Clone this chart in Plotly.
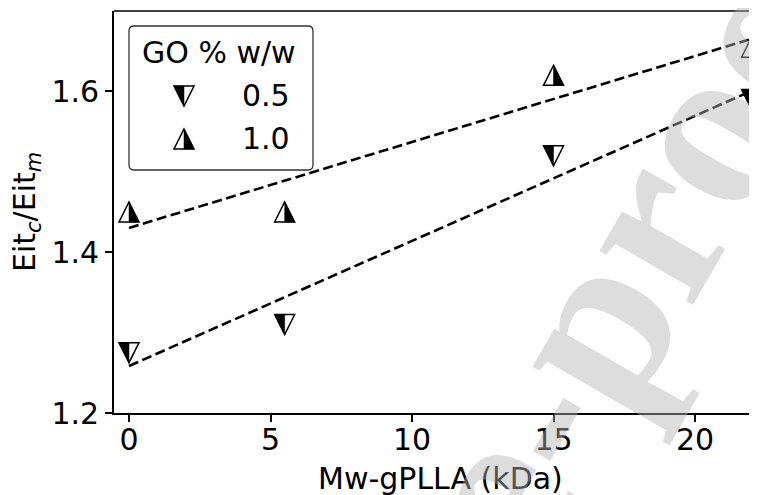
import numpy as np
import plotly.graph_objects as go

# ---- data ----
mw_kda = [0, 5.5, 15, 22]
eit_go05 = [1.275, 1.31, 1.52, 1.59]
eit_go10 = [1.45, 1.45, 1.62, 1.655]
series_labels = ["0.5", "1.0"]
legend_title = "GO % w/w"
x_ticks = [0, 5, 10, 15, 20]
y_ticks = [1.2, 1.4, 1.6]

# page body margin (8px) compensation
OFF = 8
W_REF, H_REF = 757, 495
ML, MT, MB = 114, 11, 82          # in reference page pixels
PW, PH = W_REF - ML, H_REF - MT - MB
FONT = "DejaVu Sans"
FS = 30


def px2paper(px, py):
    return (px - ML) / PW, (H_REF - MB - py) / PH


S = 10  # marker half-size in px
TRI = {
    "down": ("M -{s},{s} L {s},{s} L 0,-{s} Z", "M -{s},{s} L 0,{s} L 0,-{s} Z"),
    "up": ("M 0,{s} L {s},-{s} L -{s},-{s} Z", "M 0,{s} L {s},-{s} L 0,-{s} Z"),
}


def marker_shapes(kind, x, y, xref="x", yref="y"):
    full, half = TRI[kind]
    common = dict(type="path", xref=xref, yref=yref, xsizemode="pixel", ysizemode="pixel",
                  xanchor=x, yanchor=y, layer="above")
    return [
        dict(path=full.format(s=S), fillcolor="white", line=dict(color="black", width=1.5), **common),
        dict(path=half.format(s=S), fillcolor="black", line=dict(color="black", width=0.5), **common),
    ]


fig = go.Figure()

# fitted dashed lines
xs = np.array(mw_kda, dtype=float)
xfit = np.array([xs.min(), xs.max()])
for ys in (eit_go05, eit_go10):
    k, b = np.polyfit(xs, np.array(ys), 1)
    fig.add_trace(go.Scatter(x=xfit, y=k * xfit + b, mode="lines",
                             line=dict(color="black", width=2.6, dash="10px,4.5px"),
                             showlegend=False, hoverinfo="skip"))

# invisible data traces (hover)
for ys, lab in ((eit_go05, series_labels[0]), (eit_go10, series_labels[1])):
    fig.add_trace(go.Scatter(x=mw_kda, y=ys, mode="markers", name=lab,
                             marker=dict(size=18, opacity=0), showlegend=False))

shapes = []
for x, y in zip(mw_kda, eit_go05):
    shapes += marker_shapes("down", x, y)
for x, y in zip(mw_kda, eit_go10):
    shapes += marker_shapes("up", x, y)

# top spine
shapes.append(dict(type="line", xref="paper", yref="paper", x0=0, x1=1, y0=1, y1=1,
                   line=dict(color="black", width=1.6), layer="above"))

# legend frame (rounded rect) in pixel offsets from plot top-left
lx0, ly0, lx1, ly1, r = 129, 26, 313, 170, 5
def P(px, py):
    return f"{px - ML},{MT - py}"
frame = (f"M {P(lx0 + r, ly0)} L {P(lx1 - r, ly0)} Q {P(lx1, ly0)} {P(lx1, ly0 + r)} "
         f"L {P(lx1, ly1 - r)} Q {P(lx1, ly1)} {P(lx1 - r, ly1)} "
         f"L {P(lx0 + r, ly1)} Q {P(lx0, ly1)} {P(lx0, ly1 - r)} "
         f"L {P(lx0, ly0 + r)} Q {P(lx0, ly0)} {P(lx0 + r, ly0)} Z")
shapes.append(dict(type="path", xref="paper", yref="paper", xsizemode="pixel", ysizemode="pixel",
                   xanchor=0, yanchor=1, path=frame, fillcolor="rgba(255,255,255,0.8)",
                   line=dict(color="#333333", width=1.3), layer="above"))

# legend markers
mx, my = px2paper(184, 96)
shapes += marker_shapes("down", mx, my, "paper", "paper")
mx, my = px2paper(184, 139)
shapes += marker_shapes("up", mx, my, "paper", "paper")

annotations = []
def ann(text, px, py, size=FS, xanchor="center", angle=0, color="black", family=FONT):
    x, y = px2paper(px, py)
    annotations.append(dict(text=text, x=x, y=y, xref="paper", yref="paper", showarrow=False,
                            xanchor=xanchor, yanchor="middle", textangle=angle,
                            font=dict(family=family, size=size, color=color)))

ann(legend_title, 219, 53)
ann(series_labels[0], 240, 96, xanchor="left")
ann(series_labels[1], 240, 138, xanchor="left")
ann("Mw-gPLLA (kDa)", 440, 478)
ann("Eit<sub><i>c</i></sub>/Eit<sub><i>m</i></sub>", 26, 212, angle=-90)
# watermark
ann("<b>Pre-proof</b>", 586, 332, size=235, angle=-60, color="rgba(180,180,180,0.45)",
    family="Liberation Serif")

fig.update_layout(
    width=W_REF - OFF, height=H_REF - OFF,
    margin=dict(l=ML - OFF, r=0, t=MT - OFF, b=MB, pad=0),
    paper_bgcolor="white", plot_bgcolor="white",
    font=dict(family=FONT, size=FS, color="black"),
    shapes=shapes, annotations=annotations, showlegend=False,
    xaxis=dict(range=[-0.53, 22.19], tickvals=x_ticks, ticks="outside", ticklen=7, tickwidth=1.6,
               tickcolor="black", showline=True, linecolor="black", linewidth=1.6,
               showgrid=False, zeroline=False, tickfont=dict(size=FS), ticklabelstandoff=-8),
    yaxis=dict(range=[1.2, 1.7], tickvals=y_ticks, ticktext=[f"{v:.1f}" for v in y_ticks],
               ticks="outside", ticklen=7, tickwidth=1.6,
               tickcolor="black", showline=True, linecolor="black", linewidth=1.6,
               showgrid=False, zeroline=False, tickfont=dict(size=FS)),
)

fig.write_html("out.html")
